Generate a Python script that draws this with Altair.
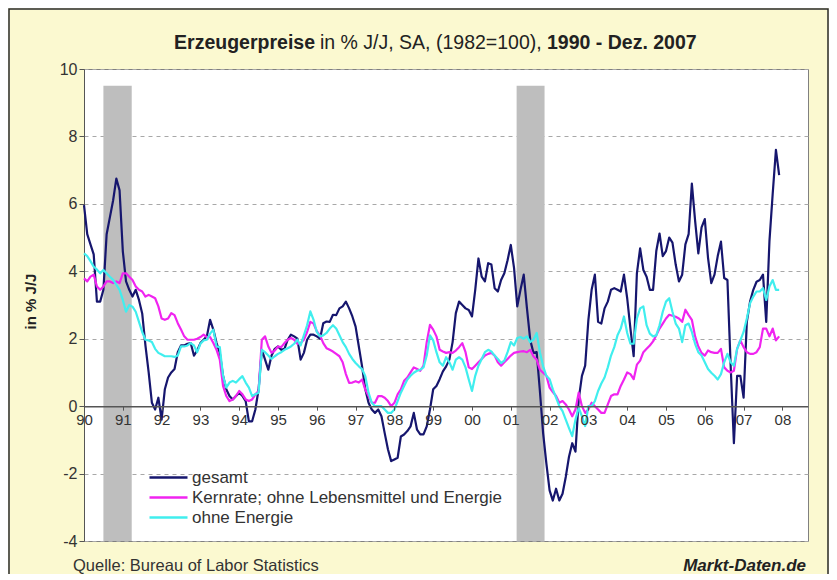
import altair as alt
import pandas as pd

# ---------------- data ----------------
start_year = 1990
tick_years = list(range(1990, 2009))

gesamt = [
    5.96, 5.1, 4.8, 4.5, 3.1, 3.1, 3.45, 5.1, 5.6, 6.1, 6.75, 6.4,          # 1990
    4.6, 3.7, 3.45, 3.25, 3.45, 3.15, 2.75, 1.8, 1.0, 0.1, -0.1, 0.25,      # 1991
    -0.4, 0.5, 0.85, 1.0, 1.1, 1.6, 1.8, 1.8, 1.85, 1.87, 1.5, 1.65,        # 1992
    1.87, 1.97, 2.07, 2.56, 2.27, 1.87, 1.58, 0.9, 0.5, 0.3, 0.2, 0.3,      # 1993
    0.4, 0.3, 0.15, -0.45, -0.45, -0.1, 0.5, 1.67, 1.38, 1.08, 1.5, 1.7,    # 1994
    1.77, 1.67, 1.7, 1.97, 2.12, 2.07, 2.0, 1.38, 1.58, 1.97, 2.12, 2.12,   # 1995
    2.07, 2.0, 2.46, 2.51, 2.5, 2.71, 2.7, 2.9, 2.96, 3.1, 2.9, 2.66,       # 1996
    2.36, 1.77, 1.18, 0.5, 0.1, -0.1, -0.2, -0.1, -0.3, -0.8, -1.28, -1.63, # 1997
    -1.58, -1.53, -0.9, -0.84, -0.74, -0.6, -0.2, -0.7, -0.84, -0.84, -0.6, -0.1,  # 1998
    0.5, 0.6, 0.8, 1.03, 1.18, 1.38, 1.9, 2.76, 3.1, 3.0, 2.9, 2.85,        # 1999
    2.66, 3.45, 4.38, 3.84, 3.7, 4.24, 4.2, 3.5, 3.4, 3.74, 3.94, 4.33,     # 2000
    4.78, 4.1, 2.96, 3.45, 3.9, 2.9, 1.97, 1.58, 1.6, 0.45, -0.8, -1.7,     # 2001
    -2.5, -2.8, -2.45, -2.8, -2.6, -2.1, -1.5, -1.1, -1.35, 0.2, 0.9, 1.2,  # 2002
    2.56, 3.45, 3.9, 2.5, 2.45, 2.9, 3.1, 3.45, 3.5, 3.45, 3.4, 3.9,        # 2003
    3.2, 2.3, 1.48, 3.94, 4.68, 4.04, 3.84, 3.45, 3.45, 4.6, 5.12, 4.45,    # 2004
    4.6, 5.0, 4.85, 4.2, 3.7, 3.9, 4.8, 5.1, 6.6, 5.5, 4.53, 5.3,           # 2005
    5.55, 4.4, 3.65, 3.9, 4.45, 4.88, 3.8, 3.74, 1.2, -1.1, 0.9, 0.9,       # 2006
    0.25, 2.5, 3.1, 3.45, 3.69, 3.74, 3.9, 2.5, 4.9, 6.3, 7.6, 6.85,        # 2007
]

kern = [
    3.79, 3.7, 3.84, 3.9, 3.55, 3.45, 3.55, 3.7, 3.7, 3.65, 3.7, 3.65,
    3.94, 3.94, 3.84, 3.74, 3.55, 3.45, 3.4, 3.25, 3.3, 3.25, 3.2, 2.96,
    2.6, 2.56, 2.6, 2.76, 2.7, 2.46, 2.27, 2.07, 1.97, 1.97, 1.97, 2.0,
    2.05, 2.12, 2.05, 2.05, 1.87, 1.67, 1.38, 0.6, 0.3, 0.15, 0.2, 0.3,
    0.45, 0.35, 0.2, 0.15, 0.2, 0.35, 0.45, 1.97, 2.07, 1.77, 1.58, 1.65,
    1.77, 1.75, 1.87, 1.97, 2.02, 1.97, 1.85, 1.87, 1.97, 2.2, 2.5, 2.45,
    2.22, 2.1, 1.87, 1.72, 1.67, 1.62, 1.55, 1.48, 1.3, 0.95, 0.69, 0.7,
    0.74, 0.7, 0.79, 0.49, 0.3, 0.1, 0.1, 0.3, 0.3, 0.25, 0.15, 0.0,
    0.1, 0.35, 0.5, 0.75, 0.85, 1.0, 1.15, 1.1, 1.05, 1.2, 1.9, 2.41,
    2.27, 2.07, 1.67, 1.62, 1.58, 1.6, 1.58, 1.65, 1.75, 1.87, 1.6, 1.15,
    1.1, 1.2, 1.3, 1.4, 1.5, 1.55, 1.58, 1.5, 1.3, 1.2, 1.3, 1.4,
    1.5, 1.58, 1.6, 1.62, 1.63, 1.6, 1.67, 1.48, 1.38, 1.08, 0.99, 0.9,
    0.55, 0.42, 0.3, 0.1, 0.15, 0.05, -0.1, -0.3, -0.1, 0.4, 0.0, -0.2,
    -0.1, 0.1, 0.0, -0.1, -0.2, -0.2, 0.05, 0.3, 0.35, 0.35, 0.6, 0.79,
    1.0, 0.95, 0.8, 1.23, 1.35, 1.6, 1.7, 1.8, 1.92, 2.1, 2.3, 2.45,
    2.6, 2.71, 2.68, 2.65, 2.6, 2.5, 2.86, 2.7, 2.56, 2.07, 1.77, 1.58,
    1.5, 1.65, 1.6, 1.58, 1.58, 1.7, 1.15, 1.05, 1.0, 1.05, 1.7, 1.95,
    1.75, 1.6, 1.55, 1.55, 1.6, 1.75, 2.3, 2.3, 2.07, 2.3, 1.95, 2.07,
]

ohne = [
    4.53, 4.45, 4.3, 4.14, 4.05, 3.94, 4.04, 3.94, 3.84, 3.75, 3.6, 3.45,
    3.15, 2.8, 3.0, 2.95, 2.8, 2.5, 2.2, 1.97, 1.95, 1.9, 1.7, 1.58,
    1.53, 1.48, 1.48, 1.48, 1.46, 1.5, 1.77, 1.77, 1.8, 1.87, 1.8, 1.6,
    1.85, 1.95, 1.97, 2.15, 2.27, 1.77, 1.75, 0.9, 0.55, 0.7, 0.75, 0.7,
    0.8, 0.89, 0.7, 0.55, 0.3, 0.35, 0.4, 1.67, 1.6, 1.5, 1.4, 1.48,
    1.55, 1.6, 1.67, 1.72, 1.77, 1.85, 1.97, 1.8, 2.1, 2.4, 2.81, 2.56,
    2.2, 2.07, 2.1, 2.17, 2.3, 2.4, 2.3, 2.1, 1.9, 1.75, 1.55, 1.4,
    1.28, 1.18, 1.1, 0.89, 0.4, 0.1, 0.0, 0.0, 0.0, -0.1, -0.2, -0.2,
    -0.1, 0.15, 0.4, 0.6, 0.79, 0.9, 0.99, 1.05, 1.08, 1.15, 1.5, 2.1,
    1.95, 1.6, 1.3, 1.2, 1.45, 1.3, 1.08, 1.38, 1.45, 1.38, 1.15, 0.79,
    0.45, 0.9, 1.2, 1.4, 1.6, 1.67, 1.62, 1.5, 1.4, 1.28, 1.35, 1.6,
    1.9, 1.8, 2.02, 2.05, 2.0, 2.07, 1.9, 1.97, 2.17, 1.6, 1.18, 0.9,
    0.8, 0.5, 0.25, 0.0, -0.15, -0.4, -0.65, -0.89, -0.4, -0.05, -0.3, -0.59,
    0.0, 0.0, 0.15, 0.45, 0.67, 0.85, 1.15, 1.5, 1.75, 2.1, 2.3, 2.66,
    2.17, 1.85, 1.85, 2.6, 2.9, 2.96, 2.4, 2.15, 2.07, 2.1, 2.4, 2.8,
    3.1, 3.2, 2.8, 2.45, 2.3, 1.9, 2.4, 2.45, 2.2, 1.85, 1.6, 1.5,
    1.3, 1.1, 0.99, 0.9, 0.79, 0.95, 1.3, 1.55, 1.3, 1.2, 1.7, 1.95,
    2.2, 2.6, 3.05, 3.25, 3.4, 3.4, 3.5, 3.15, 3.55, 3.74, 3.45, 3.45,
]

series_names = ["gesamt", "Kernrate; ohne Lebensmittel und Energie", "ohne Energie"]
series_colors = ["#16166E", "#F024F0", "#40EEEE"]

rec_start = [1990.5, 2001.15]
rec_end = [1991.23, 2001.87]
rec_top = [9.5, 9.5]

title_bold1 = "Erzeugerpreise"
title_normal = "in % J/J, SA, (1982=100),"
title_bold2 = "1990 - Dez. 2007"
source_text = "Quelle: Bureau of Labor Statistics"
brand_text = "Markt-Daten.de"
y_title = "in % J/J"

# ---------------- build tables ----------------
rows = []
for name, vals in zip(series_names, [gesamt, kern, ohne]):
    for i, v in enumerate(vals):
        rows.append({"t": start_year + i / 12.0, "v": v, "s": name})
df = pd.DataFrame(rows)
rec_df = pd.DataFrame({"a": rec_start, "b": rec_end, "top": rec_top})

W, H = 724, 472
FONT = "Liberation Sans"

x_scale = alt.Scale(domain=[1990, 2008.66], nice=False, zero=False)
y_scale = alt.Scale(domain=[-4, 10], nice=False, zero=False)
y_zero_offset = -H * 4.0 / 14.0

x_axis = alt.Axis(
    values=tick_years, labelExpr="substring(toString(datum.value), 2, 4)",
    offset=y_zero_offset, domainColor="#555555", domainWidth=1.5,
    tickColor="#555555", tickSize=4, labelFontSize=15, labelColor="#333333",
    labelFont=FONT, labelPadding=2, grid=False, title=None,
    labelFlush=False, labelOverlap=False, zindex=1,
)
y_axis = alt.Axis(
    values=[-4, -2, 0, 2, 4, 6, 8, 10], grid=True, gridDash=[4, 4],
    labelExpr="toString(datum.value)",
    gridColor="#A8A8A8", domainColor="#555555", tickColor="#555555",
    tickSize=5, labelFontSize=16, labelColor="#333333", labelFont=FONT,
    labelPadding=2, title=y_title, titleFont=FONT, titleFontSize=15,
    titleFontWeight="bold", titleColor="#222222", titleX=-54, titleY=232,
    titleAngle=-90, titleAlign="center", titleBaseline="middle",
)

rec = alt.Chart(rec_df).mark_rect(color="#BEBEBE").encode(
    x=alt.X("a:Q", scale=x_scale, axis=x_axis),
    x2="b:Q",
    y=alt.Y("top:Q", scale=y_scale, axis=y_axis),
    y2=alt.datum(-4),
)

color_scale = alt.Scale(domain=series_names, range=series_colors)
legend = alt.Legend(
    title=None, orient="none", legendX=76, legendY=400,
    symbolType="M-4.75,0H4.75", symbolSize=64, symbolStrokeWidth=2.5,
    labelFontSize=17, labelFont=FONT, labelColor="#333333", labelOffset=15,
    labelLimit=600, rowPadding=2, padding=0,
)

lines = []
for name in series_names:
    lines.append(
        alt.Chart(df).transform_filter(alt.datum.s == name).mark_line(
            strokeWidth=2.2, strokeJoin="round"
        ).encode(
            x=alt.X("t:Q", scale=x_scale),
            y=alt.Y("v:Q", scale=y_scale),
            color=alt.Color("s:N", scale=color_scale, legend=legend, sort=series_names),
        )
    )

def txt(s, x, y, size, weight="normal", align="left", style="normal", color="#222222"):
    return alt.Chart(pd.DataFrame({"label": [s]})).mark_text(
        align=align, baseline="alphabetic", fontSize=size, fontWeight=weight,
        fontStyle=style, font=FONT, color=color,
    ).encode(text="label:N", x=alt.value(x), y=alt.value(y))

texts = [
    txt(title_bold1, 231, -20, 19.5, "bold", "right"),
    txt(title_normal, 236, -20, 19.5, "normal", "left"),
    txt(title_bold2, 463, -20, 19.5, "bold", "left"),
    txt(source_text, -11, 502, 16.5, "normal", "left", color="#333333"),
    txt(brand_text, 722, 502, 17, "bold", "right", "italic", color="#222222"),
]

frame = alt.Chart(pd.DataFrame({"k": [0]})).mark_rect(
    filled=False, stroke="#2A2A2A", strokeWidth=1.5
).encode(
    x=alt.value(-75), x2=alt.value(744), y=alt.value(-60), y2=alt.value(520)
)

chart = alt.layer(rec, *lines, *texts, frame).properties(
    width=W, height=H,
    autosize=alt.AutoSizeParams(type="none"),
    padding={"left": 76, "top": 61, "right": 21, "bottom": 33},
    background="#FBF9D0",
).configure_view(fill="white", stroke="#808080", strokeWidth=1)

chart.save("out.html", embed_options={"renderer": "svg", "actions": False})
